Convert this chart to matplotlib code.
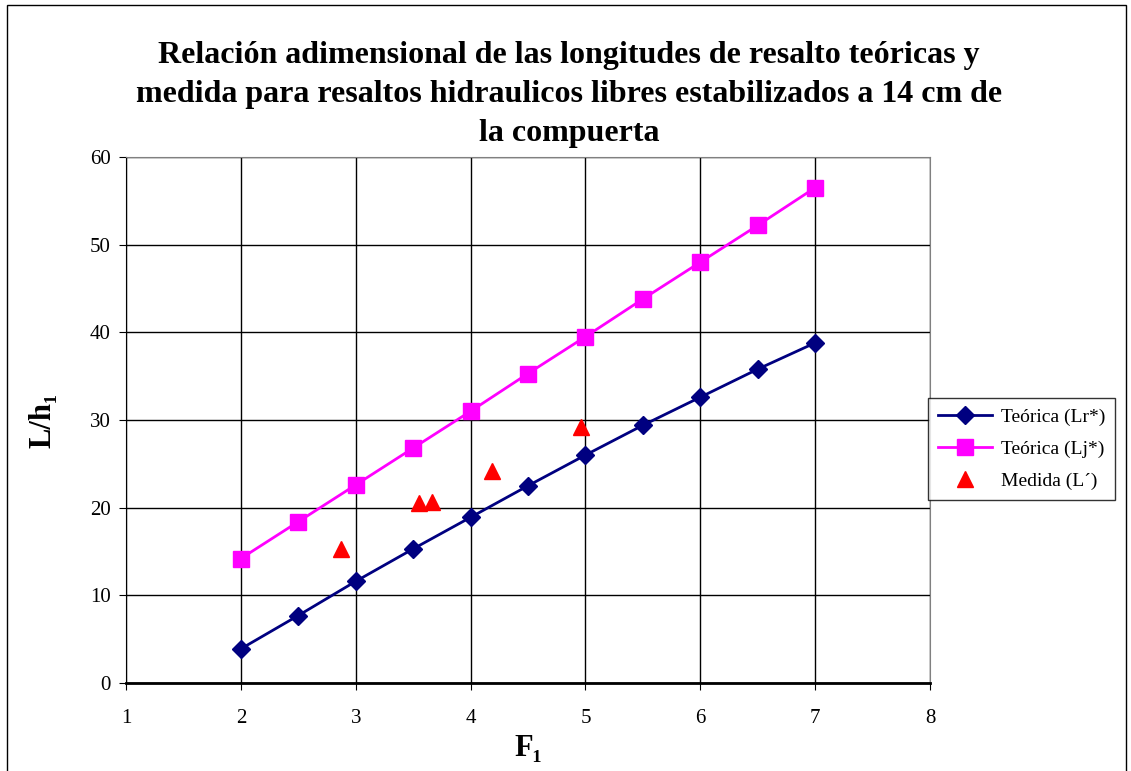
import matplotlib
matplotlib.use("Agg")
import matplotlib.pyplot as plt
from matplotlib.patches import Rectangle

plt.rcParams['font.family'] = ['Liberation Serif', 'DejaVu Serif']

# datos
froude = [2, 2.5, 3, 3.5, 4, 4.5, 5, 5.5, 6, 6.5, 7]
lr_teo = [3.9, 7.7, 11.6, 15.3, 18.9, 22.5, 26.0, 29.4, 32.6, 35.8, 38.8]
lj_teo = [14.2, 18.4, 22.6, 26.8, 31.0, 35.3, 39.5, 43.8, 48.0, 52.2, 56.5]
f_med = [2.87, 3.55, 3.66, 4.19, 4.96]
l_med = [15.3, 20.5, 20.6, 24.2, 29.2]

xticks = [1, 2, 3, 4, 5, 6, 7, 8]
yticks = [0, 10, 20, 30, 40, 50, 60]

fig = plt.figure(figsize=(11.31, 7.71), dpi=100)
ax = fig.add_axes([0.1114, 0.1141, 0.7109, 0.6823])

# plot
ax.plot(froude, lr_teo, color='#000080', lw=2, marker='D', ms=9, label='Teórica (Lr*)')
ax.plot(froude, lj_teo, color='#FF00FF', lw=2, marker='s', ms=11, label='Teórica (Lj*)')
ax.plot(f_med, l_med, ls='none', color='#FF0000', marker='^', ms=11, label='Medida (L´)')

ax.set_xlim(1, 8)
ax.set_ylim(0, 60)
ax.set_xticks(xticks)
ax.set_yticks(yticks)
ax.grid(True, color='black', lw=1)
ax.set_axisbelow(True)
ax.tick_params(direction='out', length=5, labelsize=15, pad=6)
ax.tick_params(axis='x', pad=14)
for s in ['top', 'right']:
    ax.spines[s].set_color('#808080')
ax.spines['bottom'].set_linewidth(2)

ax.set_xlabel('F₁', fontsize=22, fontweight='bold', labelpad=4)
ax.set_ylabel('L/h₁', fontsize=22, fontweight='bold', labelpad=23)

fig.suptitle('Relación adimensional de las longitudes de resalto teóricas y\n'
             'medida para resaltos hidraulicos libres estabilizados a 14 cm de\n'
             'la compuerta', x=0.503, y=0.947, fontsize=23, fontweight='bold',
             linespacing=1.45)

leg = ax.legend(loc='center left', bbox_to_anchor=(0.9975, 0.445), fontsize=14,
                frameon=True, fancybox=False, edgecolor='black', borderpad=0.5,
                borderaxespad=0, handlelength=2.8, handletextpad=0.45,
                labelspacing=0.75)
leg.get_frame().set_linewidth(1)

# marco exterior
fig.patches.append(Rectangle((0.006, -0.01), 0.99, 1.004, transform=fig.transFigure,
                             fill=False, edgecolor='black', lw=1))

fig.savefig('out.png', dpi=100)
